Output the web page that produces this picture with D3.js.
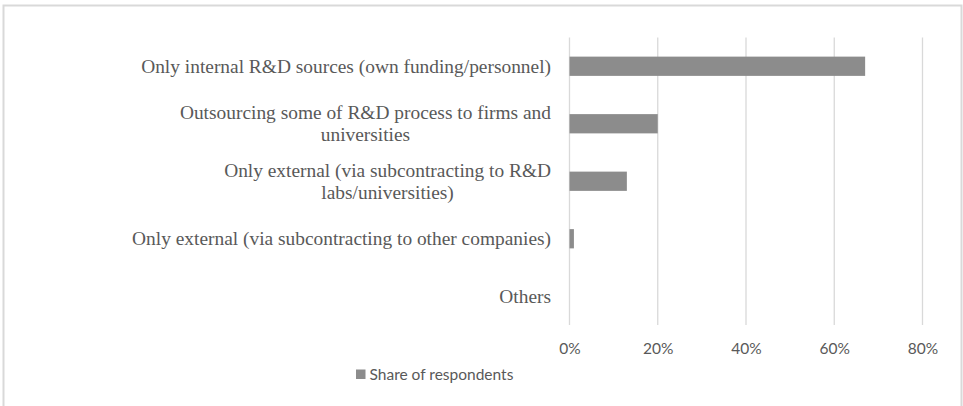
<!DOCTYPE html>
<html>
<head>
<meta charset="utf-8">
<script src="https://cdn.jsdelivr.net/npm/d3@7"></script>
<style>
  html, body { margin: 0; padding: 0; background: #fff; }
  svg { display: block; }
  .cat { font-family: "Liberation Serif", "Times New Roman", serif; }
  .sans { font-family: Lato, "Open Sans", sans-serif; }
</style>
</head>
<body>
<svg id="chart" width="963" height="406"></svg>
<script>
// Categories (top to bottom), each an array of label lines
const categories = [
  ["Only internal R&D sources (own funding/personnel)"],
  ["Outsourcing some of R&D process to firms and", "universities"],
  ["Only external (via subcontracting to R&D", "labs/universities)"],
  ["Only external (via subcontracting to other companies)"],
  ["Others"]
];
// Share of respondents, percent
const shares = [67, 20, 13, 1, 0];
const tickValues = [0, 20, 40, 60, 80];
const seriesName = "Share of respondents";

const svg = d3.select("#chart");
const W = 963, H = 406;

// frame
svg.append("rect")
  .attr("x", 3.5).attr("y", 5.5)
  .attr("width", W - 5).attr("height", H + 10)
  .attr("fill", "none").attr("stroke", "#d9d9d9").attr("stroke-width", 2);

const plot = { left: 569.5, right: 922.5, top: 37.5, bottom: 325 };

const x = d3.scaleLinear().domain([0, 80]).range([plot.left, plot.right]);
const y = d3.scaleBand()
  .domain(d3.range(categories.length))
  .range([plot.top, plot.bottom])
  .paddingInner(0.665).paddingOuter(0.3325);

// vertical gridlines
svg.append("g")
  .selectAll("line")
  .data(tickValues)
  .join("line")
  .attr("x1", d => x(d)).attr("x2", d => x(d))
  .attr("y1", plot.top).attr("y2", plot.bottom)
  .attr("stroke", "#d9d9d9").attr("stroke-width", 1.3);

// bars
svg.append("g")
  .selectAll("rect")
  .data(shares)
  .join("rect")
  .attr("x", x(0))
  .attr("y", (d, i) => y(i))
  .attr("width", d => x(d) - x(0))
  .attr("height", y.bandwidth())
  .attr("fill", "#8c8c8c");

// x-axis tick labels
const xAxis = d3.axisBottom(x)
  .tickValues(tickValues)
  .tickFormat(d => d + "%")
  .tickSize(0).tickPadding(0);
const gx = svg.append("g")
  .attr("transform", `translate(0,${plot.bottom + 18})`)
  .call(xAxis);
gx.select(".domain").remove();
gx.attr("font-family", null).attr("font-size", null);
gx.selectAll("text")
  .attr("class", "sans")
  .style("font-size", "15.5px")
  .attr("fill", "#595959");

// category labels: block right-aligned, lines centered within the block
const labelRight = 551;
const lineH = 22.3;
const catG = svg.append("g")
  .attr("class", "cat")
  .style("font-size", "19.4px")
  .attr("fill", "#595959");

categories.forEach((lines, i) => {
  const cy = y(i) + y.bandwidth() / 2;
  const t = catG.append("text").attr("text-anchor", "middle");
  const spans = lines.map(ln => t.append("tspan").text(ln));
  const widths = spans.map(s => s.node().getComputedTextLength());
  const blockW = d3.max(widths);
  const cx = labelRight - blockW / 2;
  const y0 = cy - (lines.length - 1) * lineH / 2;
  spans.forEach((s, k) => {
    s.attr("x", cx).attr("y", y0 + k * lineH).attr("dy", "0.33em");
  });
});

// legend
const lg = svg.append("g").attr("transform", "translate(356,369.5)");
lg.append("rect").attr("width", 9.5).attr("height", 9.5).attr("fill", "#8c8c8c");
lg.append("text")
  .attr("class", "sans")
  .attr("x", 13.5).attr("y", 4.8).attr("dy", "0.35em")
  .style("font-size", "15.5px")
  .attr("fill", "#595959")
  .text(seriesName);
</script>
</body>
</html>
